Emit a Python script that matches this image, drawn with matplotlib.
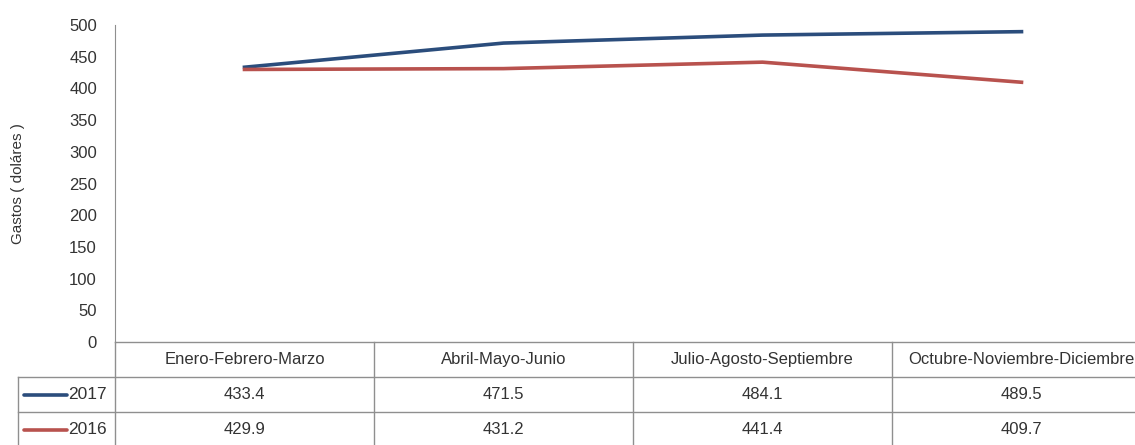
import matplotlib.pyplot as plt

# Data
categories = ["Enero-Febrero-Marzo", "Abril-Mayo-Junio",
              "Julio-Agosto-Septiembre", "Octubre-Noviembre-Diciembre"]
series_names = ["2017", "2016"]
values_2017 = [433.4, 471.5, 484.1, 489.5]
values_2016 = [429.9, 431.2, 441.4, 409.7]
yticks = [0, 50, 100, 150, 200, 250, 300, 350, 400, 450, 500]

colors = {"2017": "#2b4d7c", "2016": "#b8524e"}
grid_col = "#8f8f8f"
text_col = "#333333"
plt.rcParams["font.family"] = ["Liberation Sans", "DejaVu Sans"]
fs = 12

W, H = 1135, 445
fig = plt.figure(figsize=(W / 100, H / 100), dpi=100)
fig.patch.set_facecolor("white")

def px(x0, y0, x1, y1):
    # pixel box -> figure fraction [left, bottom, width, height]
    return [x0 / W, 1 - y1 / H, (x1 - x0) / W, (y1 - y0) / H]

# chart extends a bit past the right edge of the image, like the original
x_left, x_right = 115, 1151
colw = (x_right - x_left) / len(categories)

# Main line chart
ax = fig.add_axes(px(x_left, 25, x_right, 342))
xs = list(range(len(categories)))
ax.plot(xs, values_2017, color=colors["2017"], lw=2.6)
ax.plot(xs, values_2016, color=colors["2016"], lw=2.6)
ax.set_xlim(-0.5, len(categories) - 0.5)
ax.set_ylim(0, 500)
ax.set_yticks(yticks)
ax.set_xticks([])
ax.tick_params(axis="y", length=0, pad=13, labelsize=fs, labelcolor=text_col)
for s in ["top", "right", "bottom"]:
    ax.spines[s].set_visible(False)
ax.spines["left"].set_color(grid_col)
ax.set_ylabel("Gastos ( doláres )", fontsize=fs - 1, color=text_col, labelpad=32)

# Data table below the chart
tab = fig.add_axes(px(x_left, 342, x_right, 447))
tab.set_xlim(-0.5, len(categories) - 0.5)
tab.set_ylim(0, 3)
tab.axis("off")
left = -0.5 - (x_left - 18) / colw

kw = dict(color=grid_col, lw=1, clip_on=False)
tab.plot([-0.5, 3.5], [3, 3], **kw)
for yy in [2, 1, 0]:
    tab.plot([left, 3.5], [yy, yy], **kw)
tab.plot([left, left], [0, 2], **kw)
for i in range(len(categories)):
    tab.plot([i - 0.5, i - 0.5], [0, 3], **kw)

for i, cat in enumerate(categories):
    tab.text(i, 2.5, cat, ha="center", va="center", fontsize=fs, color=text_col)

rows = [("2017", values_2017, 1.5), ("2016", values_2016, 0.5)]
for name, vals, yc in rows:
    for i, v in enumerate(vals):
        tab.text(i, yc, f"{v:.1f}", ha="center", va="center", fontsize=fs, color=text_col)
    tab.plot([left + 0.025, left + 0.19], [yc, yc], color=colors[name], lw=2.6,
             solid_capstyle="round", clip_on=False)
    tab.text(left + 0.195, yc, name, ha="left", va="center", fontsize=fs + 0.5,
             color=text_col)

fig.savefig("out.png", dpi=100, facecolor="white")
